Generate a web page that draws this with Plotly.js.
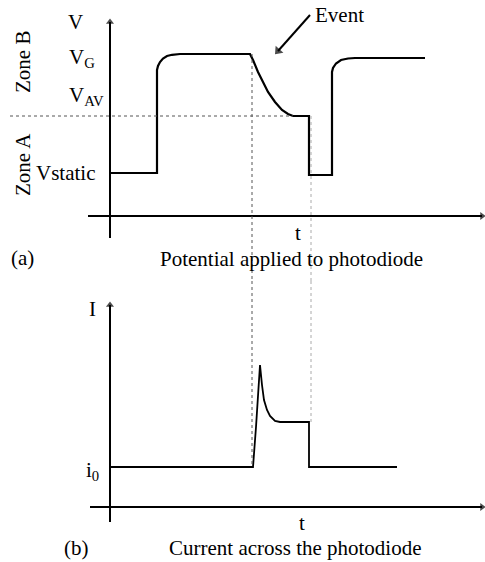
<!DOCTYPE html>
<html>
<head>
<meta charset="utf-8">
<script src="https://cdn.plot.ly/plotly-3.0.1.min.js"></script>
<style>html,body{margin:0;padding:0;background:#fff;}#chart{width:485px;height:562px;}</style>
</head>
<body>
<div id="chart"></div>
<script>
// ---- data (arbitrary units) ----
// Panel (a): potential applied to photodiode
var timeA = [0, 4.7, 4.7, 4.8, 5.0, 5.3, 5.7, 6.2, 7.0, 14.0, 14.3, 14.8, 15.3, 15.8, 16.5, 17.2, 17.8, 18.3, 19.9, 19.9, 22.2, 22.2, 22.3, 22.6, 23.1, 23.8, 24.5, 31.5];
var voltA = [4.3, 4.3, 14.6, 15.0, 15.4, 15.75, 16.0, 16.12, 16.2, 16.2, 15.6, 14.4, 13.4, 12.4, 11.4, 10.6, 10.2, 10.0, 10.0, 4.1, 4.1, 14.4, 14.8, 15.25, 15.6, 15.75, 15.8, 15.8];
// Panel (b): current across the photodiode
var timeB = [0, 14.3, 14.6, 15.0, 15.2, 15.4, 15.7, 16.0, 16.5, 17.0, 19.9, 19.9, 28.7];
var currB = [4.0, 4.0, 8.0, 14.2, 12.2, 10.7, 9.7, 9.1, 8.6, 8.5, 8.5, 4.0, 4.0];

var V_STATIC = 4.3, V_G = 16.2, V_AV = 10.0, I_0 = 4.0;
var T_EVENT = 14.2, T_END = 20.1;

// axis extents (start, arrow tip)
var tAxisA = [-2.2, 37.2], vAxis = [-2.2, 19.4];
var tAxisB = [-2.0, 37.2], iAxis = [-1.5, 20.2];
// Event pointer (from, to)
var eventFrom = [20.0, 20.1], eventTo = [16.8, 16.5];

var xRange = [-11, 37.5];
var yRangeA = [-6.5, 21.6];
var yRangeB = [-5.5, 22.6];

var FONT = '"Liberation Serif", "Times New Roman", serif';
var FS = 21;

function arrowTrace(xs, ys, yaxis, sym, angle, w, size) {
  return {x: xs, y: ys, xaxis: 'x', yaxis: yaxis, mode: 'lines+markers', hoverinfo: 'skip',
    line: {color: '#000', width: w},
    marker: {symbol: ['circle', sym], size: [0, size], angle: [0, angle], color: '#000', line: {width: 0}}};
}

var traces = [
  {x: timeA, y: voltA, xaxis: 'x', yaxis: 'y', mode: 'lines', line: {color: '#000', width: 2.2}, hoverinfo: 'skip'},
  {x: timeB, y: currB, xaxis: 'x', yaxis: 'y2', mode: 'lines', line: {color: '#000', width: 1.8}, hoverinfo: 'skip'},
  arrowTrace(tAxisA, [0, 0], 'y', 'triangle-right', 0, 2, 7),
  arrowTrace([0, 0], vAxis, 'y', 'triangle-up', 0, 2, 7),
  arrowTrace(tAxisB, [0, 0], 'y2', 'triangle-right', 0, 2, 7),
  arrowTrace([0, 0], iAxis, 'y2', 'triangle-up', 0, 2, 7),
  arrowTrace([eventFrom[0], eventTo[0]], [eventFrom[1], eventTo[1]], 'y', 'triangle-up', 222, 2, 9)
];

function txt(x, y, yref, s, opts) {
  var a = {x: x, y: y, xref: 'x', yref: yref, text: s, showarrow: false,
    font: {family: FONT, size: FS, color: '#000'}, xanchor: 'center', yanchor: 'middle'};
  for (var k in opts) a[k] = opts[k];
  return a;
}

var annotations = [
  txt(20.3, 20.1, 'y', 'Event', {xanchor: 'left'}),
  // panel (a) labels
  txt(-3.5, 19.4, 'y', 'V'),
  txt(-4.35, V_G - 0.4, 'y', 'V<sub>G</sub>', {xanchor: 'left'}),
  txt(-4.35, 12.0, 'y', 'V<sub>AV</sub>', {xanchor: 'left'}),
  txt(-1.3, V_STATIC, 'y', 'Vstatic', {xanchor: 'right'}),
  txt(-8.7, 15.4, 'y', 'Zone B', {textangle: -90}),
  txt(-8.7, 5.1, 'y', 'Zone A', {textangle: -90}),
  txt(18.8, -1.7, 'y', 't'),
  txt(-8.8, -4.2, 'y', '(a)'),
  txt(18.1, -4.3, 'y', 'Potential applied to photodiode'),
  // panel (b) labels
  txt(-1.8, 19.8, 'y2', 'I'),
  txt(-0.9, I_0 - 0.4, 'y2', 'i<sub>0</sub>', {xanchor: 'right'}),
  txt(19.2, -1.6, 'y2', 't'),
  txt(-3.4, -4.1, 'y2', '(b)'),
  txt(18.5, -4.1, 'y2', 'Current across the photodiode')
];

var shapes = [
  // V_AV dotted reference line
  {type: 'line', xref: 'x', yref: 'y', x0: -10, x1: 18.3, y0: V_AV, y1: V_AV, line: {color: '#555', width: 1, dash: 'dot'}},
  // event start guide (through both panels)
  {type: 'line', xref: 'x', yref: 'y', x0: T_EVENT, x1: T_EVENT, y0: V_G, y1: yRangeA[0], line: {color: '#555', width: 1, dash: 'dot'}},
  {type: 'line', xref: 'x', yref: 'y2', x0: T_EVENT, x1: T_EVENT, y0: yRangeB[1], y1: I_0, line: {color: '#555', width: 1, dash: 'dot'}},
  // event end guide
  {type: 'line', xref: 'x', yref: 'y', x0: T_END, x1: T_END, y0: V_AV, y1: yRangeA[0], line: {color: '#aaa', width: 1, dash: 'dot'}},
  {type: 'line', xref: 'x', yref: 'y2', x0: T_END, x1: T_END, y0: yRangeB[1], y1: 8.5, line: {color: '#aaa', width: 1, dash: 'dot'}}
];

var layout = {
  width: 485, height: 562,
  margin: {l: 0, r: 0, t: 0, b: 0},
  paper_bgcolor: '#fff', plot_bgcolor: '#fff',
  showlegend: false,
  xaxis: {range: xRange, visible: false, fixedrange: true, anchor: 'y'},
  yaxis: {range: yRangeA, domain: [0.5, 1], visible: false, fixedrange: true, anchor: 'x'},
  yaxis2: {range: yRangeB, domain: [0, 0.5], visible: false, fixedrange: true, anchor: 'x'},
  annotations: annotations,
  shapes: shapes
};

Plotly.newPlot('chart', traces, layout, {staticPlot: true, displayModeBar: false});
</script>
</body>
</html>
